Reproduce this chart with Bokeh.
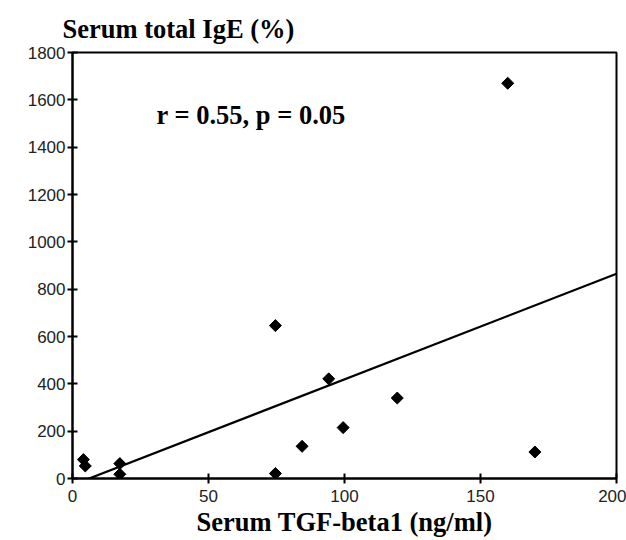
import math
from bokeh.plotting import figure
from bokeh.models import Range1d, FixedTicker, Label
from bokeh.embed import file_html
from bokeh.resources import INLINE

# Data
tgf_beta1 = [4.0, 4.7, 17.4, 17.4, 74.6, 74.6, 84.4, 94.2, 99.5, 119.4, 160.0, 170.0]
total_ige = [80, 53, 63, 18, 646, 21, 136, 421, 215, 340, 1670, 112]
fit_x = [3, 200]
fit_y = [-14, 865]
x_ticks = [0, 50, 100, 150, 200]
y_ticks = [0, 200, 400, 600, 800, 1000, 1200, 1400, 1600, 1800]
annotation = "r = 0.55, p = 0.05"

p = figure(width=626, height=540, output_backend="svg", toolbar_location=None,
           x_range=Range1d(0, 200), y_range=Range1d(0, 1800),
           min_border_left=72, min_border_right=10, min_border_top=52, min_border_bottom=62,
           title="Serum total IgE (%)")

p.title.text_font = "Liberation Serif"
p.title.text_font_style = "bold"
p.title.text_font_size = "26.5px"
p.title.text_color = "black"
p.title.align = "left"
p.title.offset = -10
p.title.standoff = 18

p.grid.visible = False
p.outline_line_color = "black"
p.outline_line_width = 2
p.background_fill_color = "white"
p.border_fill_color = "white"

for ax in (p.xaxis[0], p.yaxis[0]):
    ax.axis_line_width = 2
    ax.axis_line_color = "black"
    ax.major_tick_line_width = 2
    ax.major_tick_line_color = "black"
    ax.major_tick_in = 5
    ax.major_tick_out = 5
    ax.minor_tick_line_color = None
    ax.major_label_text_font = "Liberation Sans"
    ax.major_label_text_font_size = "17px"
    ax.major_label_text_color = "#222222"

p.xaxis.ticker = FixedTicker(ticks=x_ticks)
p.yaxis.ticker = FixedTicker(ticks=y_ticks)
p.xaxis.major_label_standoff = 6
p.yaxis.major_label_standoff = 2

p.xaxis.axis_label = "Serum TGF-beta1 (ng/ml)"
p.xaxis.axis_label_text_font = "Liberation Serif"
p.xaxis.axis_label_text_font_style = "bold"
p.xaxis.axis_label_text_font_size = "26.5px"
p.xaxis.axis_label_text_color = "black"
p.xaxis.axis_label_standoff = 2

p.line(fit_x, fit_y, line_color="black", line_width=2.2)
p.scatter(tgf_beta1, total_ige, marker="square", size=8.5, angle=math.pi / 4,
          fill_color="black", line_color="black")

p.add_layout(Label(x=30.9, y=1534, text=annotation, text_font="Liberation Serif",
                   text_font_style="bold", text_font_size="26.5px", text_color="black",
                   text_baseline="alphabetic"))

open("out.html", "w").write(file_html(p, INLINE))
